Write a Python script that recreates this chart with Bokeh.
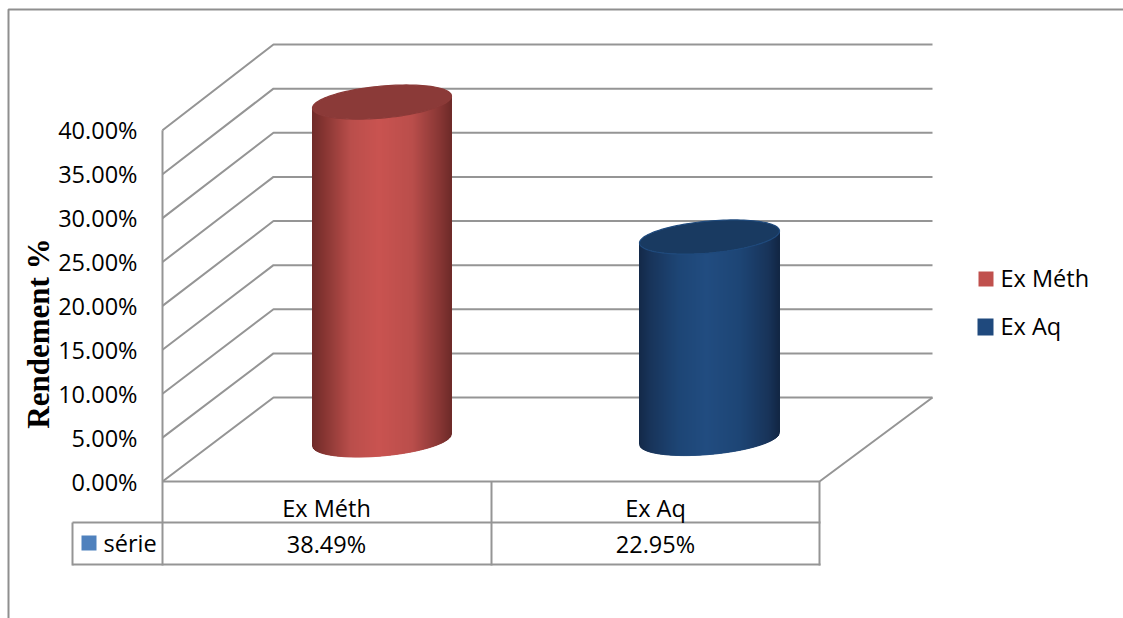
import numpy as np
from bokeh.embed import file_html
from bokeh.models import Range1d
from bokeh.plotting import figure
from bokeh.resources import INLINE
from bokeh.core.properties import value

# Extraction yields
categories = ["Ex Méth", "Ex Aq"]
yields_pct = [38.49, 22.95]
value_labels = ["38.49%", "22.95%"]
ticks = [0, 5, 10, 15, 20, 25, 30, 35, 40]
tick_labels = ["0.00%", "5.00%", "10.00%", "15.00%", "20.00%", "25.00%", "30.00%", "35.00%", "40.00%"]
axis_title = "Rendement %"
table_series = "série"

W, H = 1123, 618
PX_PER_PCT = 8.78
FRONT_ZERO = 481

# The vertical scale is in percent; helpers convert screen depth offsets to it.
def up(pixel_y):
    return (FRONT_ZERO - pixel_y) / PX_PER_PCT

p = figure(width=W, height=H, output_backend="svg", toolbar_location=None,
           x_range=Range1d(0, W), y_range=Range1d(up(H), up(0)),
           min_border=0, outline_line_color=None, background_fill_color="white")
p.xaxis.visible = False
p.yaxis.visible = False
p.grid.visible = False

GRAY = "#959595"
FONT = value("Open Sans")
BODY_SIZE = "23.5px"

def seg(xs, ys, width=2.0, color=GRAY):
    p.line(xs, [up(y) for y in ys], line_color=color, line_width=width)

# Outer chart border, open on the right and bottom
seg([8, 8, W], [H, 9, 9], 2.0, "#8f8f8f")

# Side wall and back wall gridlines
BACK_ZERO, BACK_SCALE = 397, 44.125 / 5
for t in ticks:
    front_y = FRONT_ZERO - t * PX_PER_PCT
    back_y = BACK_ZERO - t * BACK_SCALE
    seg([162, 273, 932], [front_y, back_y, back_y])

# Floor edges and data table rules
seg([162, 819, 932], [FRONT_ZERO, FRONT_ZERO, BACK_ZERO])
seg([162, 162], [FRONT_ZERO - ticks[-1] * PX_PER_PCT, 565])
seg([491, 491], [FRONT_ZERO, 565])
seg([819, 819], [FRONT_ZERO, 565])
seg([72, 820], [522, 522])
seg([72, 820], [564, 564])
seg([72, 72], [522, 565])

# Cylinders, each body built from narrow vertical strips for the lateral shading
def lerp_color(stops, f):
    pos = [s[0] for s in stops]
    return "#%02x%02x%02x" % tuple(
        int(round(np.interp(f, pos, [s[1][i] for s in stops]))) for i in range(3))

def cylinder(cx, half_w, base_px, val, stops, cap_fill, cap_edge):
    tilt, minor = 6.0, 16.0
    top_px = base_px - val * PX_PER_PCT
    edges = np.linspace(cx - half_w, cx + half_w, int(2 * half_w) + 1)
    xs, ys, cols = [], [], []

    def arc(x, centre):
        r = np.clip((x - cx) / half_w, -1, 1)
        return centre - tilt * r + minor * np.sqrt(1 - r * r)

    for a, b in zip(edges[:-1], edges[1:]):
        xs.append([a, b, b, a])
        ys.append([up(arc(a, top_px)), up(arc(b, top_px)), up(arc(b, base_px)), up(arc(a, base_px))])
        cols.append(lerp_color(stops, ((a + b) / 2 - edges[0]) / (edges[-1] - edges[0])))
    p.patches(xs, ys, fill_color=cols, line_color=cols, line_width=1.0)

    t = np.linspace(0, 2 * np.pi, 120)
    ex = cx + half_w * np.cos(t)
    ey = top_px - tilt * np.cos(t) + minor * np.sin(t)
    p.patch(ex, [up(y) for y in ey], fill_color=cap_fill, line_color=cap_edge, line_width=1.2)

RED_STOPS = [(0, (111, 43, 41)), (0.08, (132, 52, 49)), (0.28, (186, 78, 75)),
             (0.48, (201, 83, 80)), (0.72, (186, 78, 75)), (0.92, (135, 54, 52)), (1, (110, 42, 40))]
BLUE_STOPS = [(0, (19, 41, 72)), (0.08, (24, 52, 90)), (0.28, (29, 69, 117)),
              (0.48, (33, 76, 128)), (0.72, (29, 69, 117)), (0.92, (24, 52, 90)), (1, (18, 38, 68))]

cylinder(381.5, 69.5, 439.5, yields_pct[0], RED_STOPS, "#8b3a38", "#8b3a38")
cylinder(709, 70, 438, yields_pct[1], BLUE_STOPS, "#193a61", "#1f4a7d")

# Text helper working in screen offsets
def label(x, y, text, align="center", size=BODY_SIZE, font=FONT, style="normal", angle=0):
    p.text([x], [up(y)], text=[text], text_font=font, text_font_size=size,
           text_font_style=style, text_align=align, text_baseline="middle",
           text_color="black", angle=angle)

# Value axis labels
for t, lab in zip(ticks, tick_labels):
    label(137, FRONT_ZERO - t * PX_PER_PCT, lab, align="right")

label(38, 333, axis_title, size="31px", font=value("Liberation Serif"), style="bold", angle=np.pi / 2)

# Data table contents
for cx, cat, vlab in zip([326, 655], categories, value_labels):
    label(cx, 507, cat)
    label(cx, 543, vlab)
p.quad(left=[81], right=[96], bottom=[up(550)], top=[up(535)], fill_color="#4f81bd", line_color=None)
label(103, 542, table_series, align="left")

# Legend
p.quad(left=[978], right=[993], bottom=[up(286)], top=[up(271)], fill_color="#c0504d", line_color=None)
p.quad(left=[977], right=[993], bottom=[up(335)], top=[up(318)], fill_color="#1f497d", line_color=None)
label(1000, 277, categories[0], align="left")
label(1000, 325, categories[1], align="left")

open("out.html", "w").write(file_html(p, INLINE))
